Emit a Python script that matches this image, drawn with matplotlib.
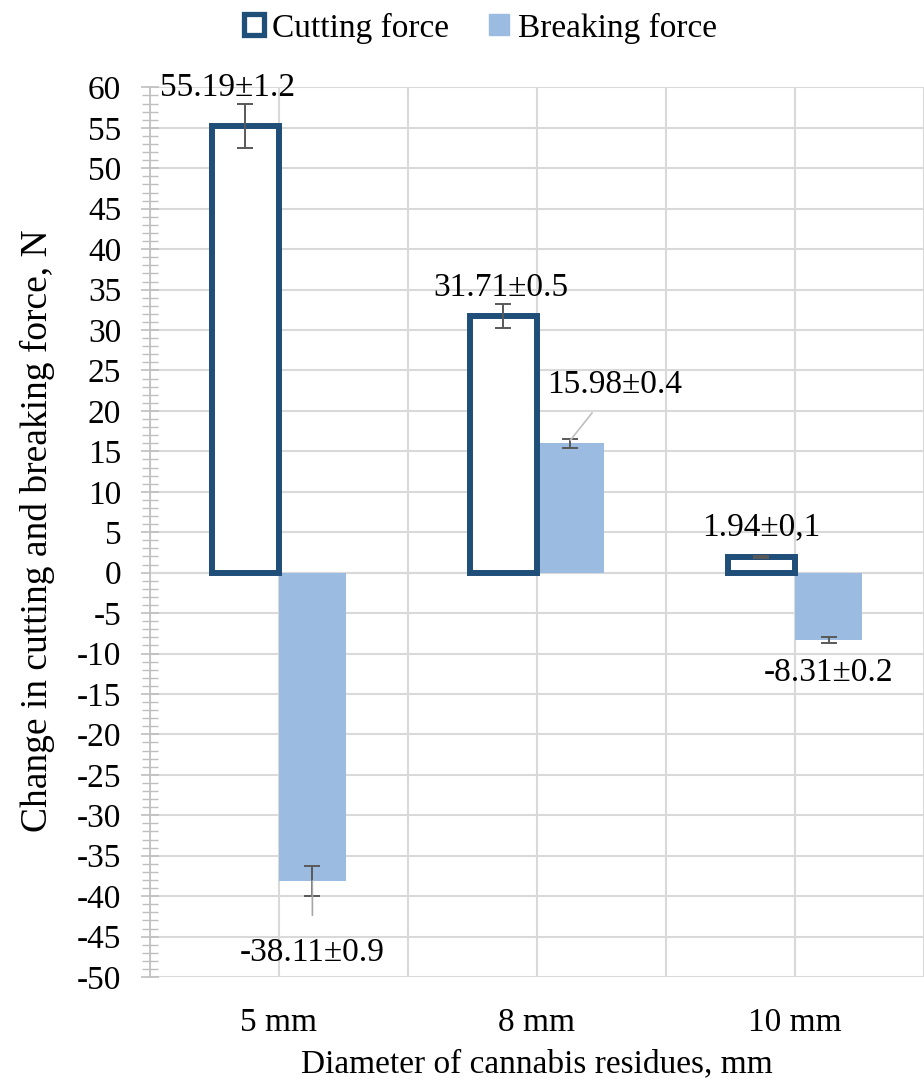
import numpy as np
import matplotlib
matplotlib.use("Agg")
import matplotlib.pyplot as plt
from matplotlib.patches import Patch
from matplotlib.ticker import MultipleLocator

# data
categories = ["5 mm", "8 mm", "10 mm"]
cutting = [55.19, 31.71, 1.94]
breaking = [-38.11, 15.98, -8.31]
cutting_err = [2.7, 1.5, 0.15]
breaking_err = [1.9, 0.6, 0.4]
cutting_labels = ["55.19±1.2", "31.71±0.5", "1.94±0,1"]
breaking_labels = ["-38.11±0.9", "15.98±0.4", "-8.31±0.2"]

dark_blue = "#1F4E79"
light_blue = "#9BBBE0"
grid_col = "#D9D9D9"
err_col = "#595959"
fs = 24

plt.rcParams["font.family"] = ["Liberation Serif", "DejaVu Serif"]
plt.rcParams["axes.unicode_minus"] = False

fig = plt.figure(figsize=(9.24, 10.79), dpi=100)
ax = fig.add_axes([0.162, 0.0945, 0.838, 0.8245])

x = np.arange(len(categories))
w = 0.26

ax.bar(x - w / 2, cutting, w, facecolor="white", edgecolor=dark_blue,
       linewidth=4.3, zorder=3, yerr=cutting_err,
       error_kw=dict(ecolor=err_col, elinewidth=1.4, capsize=6, capthick=1.4, zorder=5))
ax.bar(x + w / 2, breaking, w, color=light_blue, zorder=2, yerr=breaking_err,
       error_kw=dict(ecolor=err_col, elinewidth=1.4, capsize=6, capthick=1.4, zorder=5))

# value labels (positions)
cut_pos = [(-0.197, 60.0), (0.861, 35.2), (1.87, 5.6)]
brk_pos = [(0.131, -47.0), (1.30, 23.2), (2.13, -12.4)]
for i in range(3):
    ax.text(cut_pos[i][0], cut_pos[i][1], cutting_labels[i], ha="center",
            va="center", fontsize=fs, zorder=6)
ax.annotate(breaking_labels[0], xy=(x[0] + w / 2, breaking[0]), xytext=brk_pos[0],
            ha="center", va="center", fontsize=fs, zorder=6,
            arrowprops=dict(arrowstyle="-", color="#A6A6A6", lw=1.2, shrinkA=14, shrinkB=0))
ax.annotate(breaking_labels[1], xy=(x[1] + w / 2, breaking[1] + 0.4), xytext=brk_pos[1],
            ha="center", va="center", fontsize=fs, zorder=6,
            arrowprops=dict(arrowstyle="-", color="#BFBFBF", lw=1.2, shrinkA=9, shrinkB=0))
ax.text(brk_pos[2][0], brk_pos[2][1], breaking_labels[2], ha="center",
        va="center", fontsize=fs, zorder=6)

ax.set_xlim(-0.5, 2.5)
ax.set_ylim(-50, 60)
ax.yaxis.set_major_locator(MultipleLocator(5))
ax.yaxis.set_minor_locator(MultipleLocator(1))
ax.set_xticks(x)
ax.set_xticklabels(categories, fontsize=fs)
ax.set_xticks([-0.5, 0.5, 1.5, 2.5], minor=True)
ax.tick_params(axis="x", which="both", length=0, pad=22)
ax.tick_params(axis="y", which="major", direction="inout", length=13,
               color="#BFBFBF", width=1.2, labelsize=fs, pad=14)
ax.tick_params(axis="y", which="minor", direction="inout", length=12,
               color="#BFBFBF", width=1.0)

ax.grid(True, axis="y", which="major", color=grid_col, lw=1.5, zorder=0)
ax.grid(True, axis="x", which="both", color=grid_col, lw=1.5, zorder=0)
ax.axhline(0, color=grid_col, lw=1.5, zorder=1)
for s in ["top", "right", "bottom"]:
    ax.spines[s].set_visible(False)
ax.spines["left"].set_color("#BFBFBF")
ax.spines["left"].set_linewidth(1.2)
ax.set_axisbelow(True)

ax.set_xlabel("Diameter of cannabis residues, mm", fontsize=fs, labelpad=8)
ax.set_ylabel("Change in cutting and breaking force, N", fontsize=27)
ax.yaxis.set_label_coords(-0.122, 0.502)

handles = [Patch(facecolor="white", edgecolor=dark_blue, linewidth=3.8, label="Cutting force"),
           Patch(facecolor=light_blue, edgecolor=light_blue, label="Breaking force")]
fig.legend(handles=handles, loc="center", bbox_to_anchor=(0.52, 0.974), ncol=2,
           frameon=False, fontsize=fs, handlelength=0.6, handleheight=0.6,
           handletextpad=0.25, columnspacing=1.2)

fig.savefig("out.png", dpi=100)
